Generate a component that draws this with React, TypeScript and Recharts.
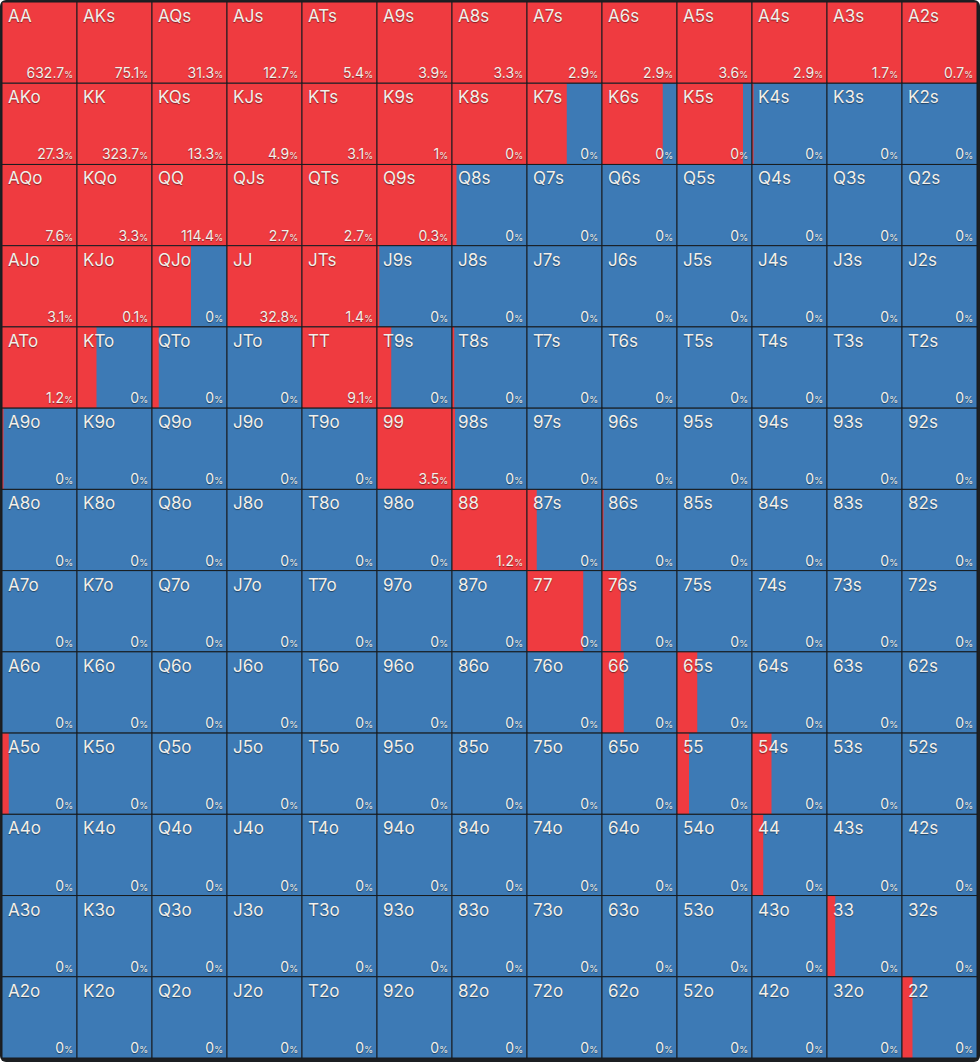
import { BarChart, Bar, XAxis, YAxis } from "recharts";

const RANKS = ["A", "K", "Q", "J", "T", "9", "8", "7", "6", "5", "4", "3", "2"];

// share of the cell painted red (raise frequency), row by row
const raiseShare: number[][] = [
    [1, 1, 1, 1, 1, 1, 1, 1, 1, 1, 1, 1, 1],
    [1, 1, 1, 1, 1, 1, 1, 0.53, 0.81, 0.88, 0.02, 0, 0],
    [1, 1, 1, 1, 1, 1, 0.06, 0, 0, 0, 0, 0, 0],
    [1, 1, 0.52, 1, 1, 0.03, 0, 0, 0, 0, 0, 0, 0],
    [1, 0.26, 0.09, 0, 1, 0.19, 0.03, 0, 0, 0, 0, 0, 0],
    [0.02, 0, 0, 0, 0, 1, 0.04, 0, 0, 0, 0, 0, 0],
    [0, 0, 0, 0, 0, 0, 1, 0.13, 0.02, 0, 0, 0, 0],
    [0, 0, 0, 0, 0, 0, 0, 0.75, 0.25, 0, 0, 0, 0],
    [0, 0, 0, 0, 0, 0, 0, 0, 0.29, 0.27, 0, 0, 0],
    [0.09, 0, 0, 0, 0, 0, 0, 0, 0, 0.16, 0.26, 0, 0],
    [0, 0, 0, 0, 0, 0, 0, 0, 0, 0, 0.15, 0, 0],
    [0, 0, 0, 0, 0, 0, 0, 0, 0, 0, 0, 0.11, 0],
    [0, 0, 0, 0, 0, 0, 0, 0, 0, 0, 0, 0, 0.14],
];

// number printed in the bottom-right corner (percent)
const cellValue: number[][] = [
    [632.7, 75.1, 31.3, 12.7, 5.4, 3.9, 3.3, 2.9, 2.9, 3.6, 2.9, 1.7, 0.7],
    [27.3, 323.7, 13.3, 4.9, 3.1, 1, 0, 0, 0, 0, 0, 0, 0],
    [7.6, 3.3, 114.4, 2.7, 2.7, 0.3, 0, 0, 0, 0, 0, 0, 0],
    [3.1, 0.1, 0, 32.8, 1.4, 0, 0, 0, 0, 0, 0, 0, 0],
    [1.2, 0, 0, 0, 9.1, 0, 0, 0, 0, 0, 0, 0, 0],
    [0, 0, 0, 0, 0, 3.5, 0, 0, 0, 0, 0, 0, 0],
    [0, 0, 0, 0, 0, 0, 1.2, 0, 0, 0, 0, 0, 0],
    [0, 0, 0, 0, 0, 0, 0, 0, 0, 0, 0, 0, 0],
    [0, 0, 0, 0, 0, 0, 0, 0, 0, 0, 0, 0, 0],
    [0, 0, 0, 0, 0, 0, 0, 0, 0, 0, 0, 0, 0],
    [0, 0, 0, 0, 0, 0, 0, 0, 0, 0, 0, 0, 0],
    [0, 0, 0, 0, 0, 0, 0, 0, 0, 0, 0, 0, 0],
    [0, 0, 0, 0, 0, 0, 0, 0, 0, 0, 0, 0, 0],
];

const RED = "#ef3b40";
const BLUE = "#3d7ab5";
const LINE = "#181b1e";
const TEXT = "#f3f0ea";
const FONT = "Inter, 'Noto Sans', sans-serif";

const handLabel = (r: number, c: number) => {
    if (r === c) return RANKS[r] + RANKS[c];
    if (c > r) return RANKS[r] + RANKS[c] + "s";
    return RANKS[c] + RANKS[r] + "o";
};

const chartData = RANKS.map((rank, c) => {
    const d: Record<string, number | string> = { col: rank };
    RANKS.forEach((_, r) => {
        d["r" + r] = 1;
    });
    return d;
});

const makeCell = (row: number) => (props: any) => {
    const { x, width, index } = props;
    const y = Math.min(props.y, props.y + props.height);
    const height = Math.abs(props.height);
    const share = raiseShare[row][index];
    const value = cellValue[row][index];
    const label = handLabel(row, index);
    const right = x + width - 4;
    const base = y + height - 5;
    return (
        <g>
            <rect x={x} y={y} width={width} height={height} fill={BLUE} />
            {share > 0 && (
                <rect x={x} y={y} width={width * share} height={height} fill={RED} />
            )}
            <rect
                x={x}
                y={y}
                width={width}
                height={height}
                fill="none"
                stroke={LINE}
                strokeWidth={1}
            />
            <text
                x={x + 6}
                y={y + 20}
                fill={TEXT}
                fontSize={17}
                fontFamily={FONT}
                style={{ textShadow: "0 1px 1px rgba(0,0,0,0.45)" }}
            >
                {label}
            </text>
            <text
                x={right}
                y={base}
                textAnchor="end"
                fill={TEXT}
                fontFamily={FONT}
                style={{ textShadow: "0 1px 1px rgba(0,0,0,0.45)" }}
            >
                <tspan fontSize={14}>{String(value)}</tspan>
                <tspan fontSize={9}>%</tspan>
            </text>
        </g>
    );
};

export default function App() {
    return (
        <div
            style={{
                position: "absolute",
                left: 0,
                top: 0,
                width: 980,
                height: 1062,
                background: "#1c1f22",
                borderRadius: 6,
                overflow: "hidden",
            }}
        >
            <BarChart
                width={980}
                height={1062}
                data={chartData}
                margin={{ top: 2, right: 3, bottom: 4, left: 2 }}
                barCategoryGap={0}
                barGap={0}
            >
                <XAxis dataKey="col" type="category" hide />
                <YAxis type="number" domain={[0, 13]} reversed hide />
                {RANKS.map((_, r) => (
                    <Bar
                        key={r}
                        dataKey={"r" + r}
                        stackId="grid"
                        isAnimationActive={false}
                        shape={makeCell(r)}
                    />
                ))}
            </BarChart>
        </div>
    );
}
